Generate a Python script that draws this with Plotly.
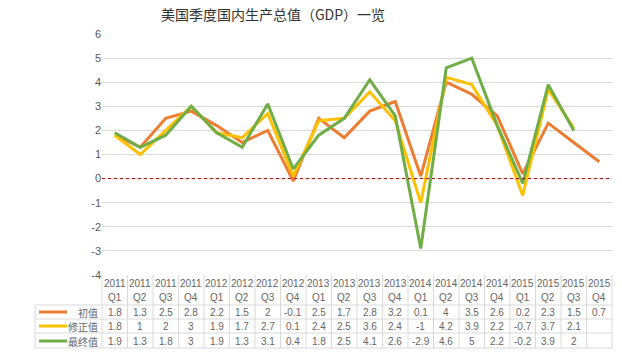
import plotly.graph_objects as go

years = ["2011"]*4 + ["2012"]*4 + ["2013"]*4 + ["2014"]*4 + ["2015"]*4
quarters = ["Q1", "Q2", "Q3", "Q4"] * 5
initial = [1.8, 1.3, 2.5, 2.8, 2.2, 1.5, 2, -0.1, 2.5, 1.7, 2.8, 3.2, 0.1, 4, 3.5, 2.6, 0.2, 2.3, 1.5, 0.7]
revised = [1.8, 1, 2, 3, 1.9, 1.7, 2.7, 0.1, 2.4, 2.5, 3.6, 2.4, -1, 4.2, 3.9, 2.2, -0.7, 3.7, 2.1, None]
final = [1.9, 1.3, 1.8, 3, 1.9, 1.3, 3.1, 0.4, 1.8, 2.5, 4.1, 2.6, -2.9, 4.6, 5, 2.2, -0.2, 3.9, 2, None]
series_names = ["初值", "修正值", "最终值"]
series_values = [initial, revised, final]
colors = ["#ED7D31", "#FFC000", "#70AD47"]
title = "美国季度国内生产总值（GDP）一览"
y_tick_vals = [-4, -3, -2, -1, 0, 1, 2, 3, 4, 5, 6]
y_tick_text = ["-4", "-3", "-2", "-1", "0", "1", "2", "3", "4", "5", "6"]

W, H = 622, 357
L, R, T, B = 102, 612, 34, 275
n = len(years)
colw = (R - L) / n

def px(x):
    return (x - L) / (R - L)

def py(y):
    return (B - y) / (B - T)

xs = list(range(n))
fig = go.Figure()
for name, vals, c in zip(series_names, series_values, colors):
    fig.add_trace(go.Scatter(x=xs, y=vals, mode="lines", name=name,
                             line=dict(color=c, width=3), connectgaps=False))

shapes = []
annotations = []
# zero line
shapes.append(dict(type="line", xref="paper", yref="y", x0=0, x1=1, y0=0, y1=0,
                   line=dict(color="#A00000", width=1, dash="dot"), layer="above"))

# table grid
row_lines = [305, 319, 333, 348]
grid_c = "#D9D9D9"
for i in range(n + 1):
    x = L + colw * i
    shapes.append(dict(type="line", xref="paper", yref="paper", x0=px(x), x1=px(x),
                       y0=py(B), y1=py(348), line=dict(color=grid_c, width=1)))
shapes.append(dict(type="line", xref="paper", yref="paper", x0=px(35), x1=px(35),
                   y0=py(305), y1=py(348), line=dict(color=grid_c, width=1)))
for yy in row_lines:
    shapes.append(dict(type="line", xref="paper", yref="paper", x0=px(35), x1=px(R),
                       y0=py(yy), y1=py(yy), line=dict(color=grid_c, width=1)))

tfont = dict(family="Liberation Sans, Arial", size=10, color="#666666")
for i in range(n):
    cx = L + colw * (i + 0.5)
    annotations.append(dict(text=years[i], x=px(cx), y=py(283), xref="paper", yref="paper",
                            showarrow=False, font=tfont, xanchor="center", yanchor="middle"))
    annotations.append(dict(text=quarters[i], x=px(cx), y=py(297), xref="paper", yref="paper",
                            showarrow=False, font=tfont, xanchor="center", yanchor="middle"))
row_centers = [312, 326, 341]
for r, (name, vals, c) in enumerate(zip(series_names, series_values, colors)):
    yc = row_centers[r]
    for i in range(n):
        v = vals[i]
        if v is None:
            continue
        cx = L + colw * (i + 0.5)
        annotations.append(dict(text=f"{v:g}", x=px(cx), y=py(yc), xref="paper", yref="paper",
                                showarrow=False, font=tfont, xanchor="center", yanchor="middle"))
    shapes.append(dict(type="line", xref="paper", yref="paper", x0=px(39), x1=px(67),
                       y0=py(yc), y1=py(yc), line=dict(color=c, width=3)))
    annotations.append(dict(text=name, x=px(100), y=py(yc), xref="paper", yref="paper",
                            showarrow=False, xanchor="right", yanchor="middle",
                            font=dict(family="Noto Sans CJK SC", size=10, color="#666666")))

fig.update_layout(
    width=W, height=H,
    margin=dict(l=L, r=W - R, t=T, b=H - B),
    paper_bgcolor="white", plot_bgcolor="white",
    showlegend=False,
    title=dict(text=title, x=273 / W, xanchor="center", y=1 - 15 / H, yanchor="middle",
               font=dict(family="Noto Sans CJK SC", size=14, color="#333333")),
    xaxis=dict(range=[-0.5, n - 0.5], showticklabels=False, showgrid=False, zeroline=False,
               showline=False, ticks=""),
    yaxis=dict(range=[-4, 6], tickvals=y_tick_vals, ticktext=y_tick_text,
               showgrid=True, gridcolor="#D9D9D9", gridwidth=1,
               zeroline=False, showline=False, ticks="",
               tickfont=dict(family="Liberation Sans, Arial", size=11, color="#595959")),
    shapes=shapes, annotations=annotations,
)
fig.write_html("out.html", config={"displayModeBar": False},
               post_script="document.body.style.margin='0';")
